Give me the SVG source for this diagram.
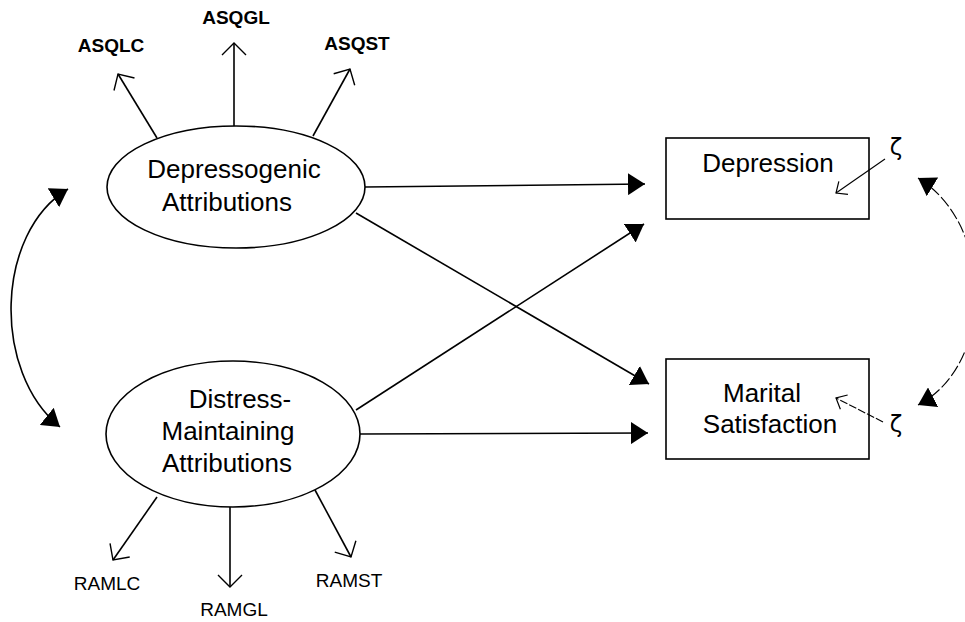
<svg xmlns="http://www.w3.org/2000/svg" width="965" height="622" viewBox="0 0 965 622">
<defs>
<style>
.t{font-family:"Liberation Sans",Arial,sans-serif;fill:#000;}
.big{font-size:26px;text-anchor:middle;}
.ind{font-size:19px;text-anchor:middle;}
.asq{font-weight:bold;}
.shape{fill:#fff;stroke:#000;stroke-width:1.6;}
.ln{fill:none;stroke:#000;stroke-width:1.6;}
.thin{fill:none;stroke:#000;stroke-width:1.1;}
.zeta{font-family:"DejaVu Sans","Liberation Sans",sans-serif;font-size:23px;fill:#000;text-anchor:middle;}
</style>
<marker id="fa" viewBox="0 0 17 22" refX="17" refY="11" markerWidth="17" markerHeight="22" markerUnits="userSpaceOnUse" orient="auto-start-reverse">
<path d="M0,0 L17,11 L0,22 z" fill="#000"/>
</marker>
<marker id="oa" viewBox="-2 -2 16 28" refX="12" refY="12" markerWidth="16" markerHeight="28" markerUnits="userSpaceOnUse" orient="auto">
<path d="M0,0 L12,12 L0,24" fill="none" stroke="#000" stroke-width="1.4"/>
</marker>
<marker id="sa" viewBox="-2 -2 12 20" refX="9" refY="8" markerWidth="12" markerHeight="20" markerUnits="userSpaceOnUse" orient="auto">
<path d="M0,0 L9,8 L0,16" fill="none" stroke="#000" stroke-width="1.2"/>
</marker>
</defs>
<rect width="965" height="622" fill="#fff"/>

<g id="node-depressogenic">
<ellipse class="shape" cx="236" cy="187" rx="129" ry="61"/>
<text class="t big" x="234" y="178">Depressogenic</text>
<text class="t big" x="227" y="211">Attributions</text>
</g>

<g id="node-distress">
<ellipse class="shape" cx="233" cy="434" rx="127" ry="73"/>
<text class="t big" x="240" y="408">Distress-</text>
<text class="t big" x="228" y="440">Maintaining</text>
<text class="t big" x="227" y="472">Attributions</text>
</g>

<g id="node-depression">
<rect class="shape" x="666" y="138" width="203" height="81"/>
<text class="t big" x="768" y="172">Depression</text>
</g>

<g id="node-marital">
<rect class="shape" x="666" y="359" width="203" height="100"/>
<text class="t big" x="762" y="402">Marital</text>
<text class="t big" x="770" y="433">Satisfaction</text>
</g>

<g id="node-asqlc"><text class="t ind asq" x="111" y="52">ASQLC</text></g>
<g id="node-asqgl"><text class="t ind asq" x="236" y="24">ASQGL</text></g>
<g id="node-asqst"><text class="t ind asq" x="357" y="50">ASQST</text></g>
<g id="node-ramlc"><text class="t ind" x="107" y="590">RAMLC</text></g>
<g id="node-ramgl"><text class="t ind" x="234" y="616">RAMGL</text></g>
<g id="node-ramst"><text class="t ind" x="349" y="587">RAMST</text></g>

<g id="node-zeta1"><text class="zeta" x="896" y="155">ζ</text></g>
<g id="node-zeta2"><text class="zeta" x="896" y="432">ζ</text></g>

<g id="connectors">
<line class="ln" x1="157" y1="138" x2="118" y2="74" marker-end="url(#oa)"/>
<line class="ln" x1="234" y1="126" x2="234" y2="43" marker-end="url(#oa)"/>
<line class="ln" x1="313" y1="136" x2="350" y2="69" marker-end="url(#oa)"/>
<line class="ln" x1="157" y1="497" x2="113" y2="560" marker-end="url(#oa)"/>
<line class="ln" x1="230" y1="507" x2="230" y2="587" marker-end="url(#oa)"/>
<line class="ln" x1="315" y1="490" x2="351" y2="557" marker-end="url(#oa)"/>
<line class="ln" x1="365" y1="187" x2="645" y2="184" marker-end="url(#fa)"/>
<line class="ln" x1="356" y1="213" x2="649" y2="384" marker-end="url(#fa)"/>
<line class="ln" x1="356" y1="410" x2="644" y2="224" marker-end="url(#fa)"/>
<line class="ln" x1="360" y1="434" x2="648" y2="433" marker-end="url(#fa)"/>
<path class="ln" d="M68,189 C-5,233 -8,372 60,427" marker-start="url(#fa)" marker-end="url(#fa)"/>
<path class="thin" d="M918,178 C995,225 995,365 918,405" stroke-dasharray="12 3" marker-start="url(#fa)" marker-end="url(#fa)"/>
<line class="thin" x1="885" y1="159" x2="836" y2="193" marker-end="url(#sa)"/>
<line class="thin" x1="883" y1="422" x2="836" y2="398" marker-end="url(#sa)" stroke-dasharray="8 2"/>
</g>
</svg>
